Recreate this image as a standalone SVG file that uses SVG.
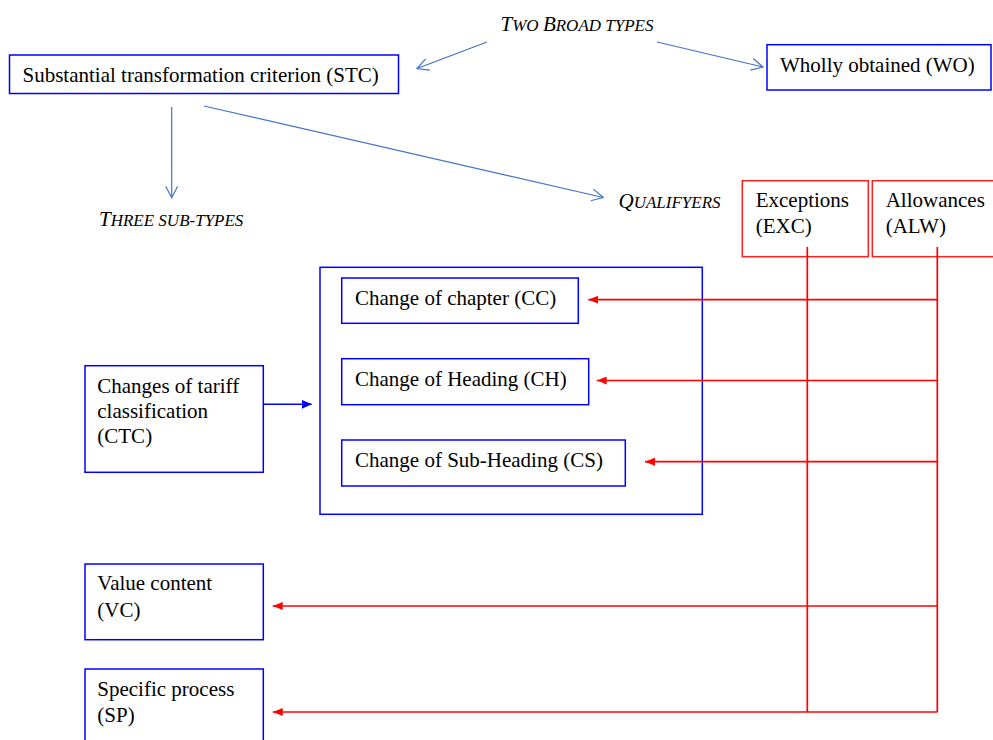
<svg xmlns="http://www.w3.org/2000/svg" width="993" height="740" viewBox="0 0 993 740">
<style>
text{font-family:"Liberation Serif",Tinos,"DejaVu Serif",serif;font-size:21px;fill:#000}
.lbl{font-style:italic}
.sc{font-size:17px}
.bbox{fill:#fff;stroke:#0000ff;stroke-width:1.5}
.gbox{fill:none;stroke:#0000ff;stroke-width:1.5}
.rbox{fill:#fff;stroke:#ff2020;stroke-width:1.5}
.thin{fill:none;stroke:#4472c4;stroke-width:1.2}
.red{fill:none;stroke:#ff0000;stroke-width:1.7}
.blue{fill:none;stroke:#0000ff;stroke-width:1.5}
</style>
<defs>
<marker id="open" viewBox="0 0 14 14" refX="12.5" refY="7" markerWidth="14" markerHeight="14" markerUnits="userSpaceOnUse" orient="auto">
<path d="M1,1 L12.5,7 L1,13" fill="none" stroke="#4472c4" stroke-width="1.2"/>
</marker>
<marker id="redhead" viewBox="0 0 10 8" refX="10" refY="4" markerWidth="10" markerHeight="8" markerUnits="userSpaceOnUse" orient="auto">
<path d="M0,0 L10,4 L0,8 Z" fill="#ff0000"/>
</marker>
<marker id="bluehead" viewBox="0 0 10 9" refX="10" refY="4.5" markerWidth="10" markerHeight="9" markerUnits="userSpaceOnUse" orient="auto">
<path d="M0,0 L10,4.5 L0,9 Z" fill="#0000ff"/>
</marker>
</defs>
<rect width="993" height="740" fill="#fff"/>

<g id="labels" font-family="Liberation Serif, serif">
<text class="lbl" x="500.5" y="31"><tspan>T</tspan><tspan class="sc">WO </tspan><tspan>B</tspan><tspan class="sc">ROAD TYPES</tspan></text>
<text class="lbl" x="99" y="226"><tspan>T</tspan><tspan class="sc">HREE SUB-TYPES</tspan></text>
<text class="lbl" x="618.5" y="208"><tspan>Q</tspan><tspan class="sc">UALIFYERS</tspan></text>
</g>

<g id="STC">
<rect class="bbox" x="9.5" y="55" width="389" height="38.5"/>
<text x="22.5" y="82">Substantial transformation criterion (STC)</text>
</g>
<g id="WO">
<rect class="bbox" x="767" y="44.7" width="224" height="45.3"/>
<text x="780" y="72">Wholly obtained (WO)</text>
</g>
<g id="EXC">
<rect class="rbox" x="742.3" y="180.7" width="126" height="76"/>
<text x="755.7" y="207.3">Exceptions</text>
<text x="755.7" y="233.3">(EXC)</text>
</g>
<g id="ALW">
<rect class="rbox" x="872.3" y="180.7" width="130" height="76"/>
<text x="885.7" y="207.3">Allowances</text>
<text x="885.7" y="233.3">(ALW)</text>
</g>
<g id="CTCGroup">
<rect class="gbox" x="320" y="267.3" width="382.3" height="247"/>
</g>
<g id="CC">
<rect class="bbox" x="341.7" y="278" width="236.6" height="45.3"/>
<text x="355" y="305">Change of chapter (CC)</text>
</g>
<g id="CH">
<rect class="bbox" x="341.7" y="358.7" width="247" height="46"/>
<text x="355" y="386">Change of Heading (CH)</text>
</g>
<g id="CS">
<rect class="bbox" x="341.7" y="440" width="283.6" height="46"/>
<text x="355" y="466.7">Change of Sub-Heading (CS)</text>
</g>
<g id="CTC">
<rect class="bbox" x="85" y="365.7" width="178.3" height="106.6"/>
<text x="97.3" y="392.7">Changes of tariff</text>
<text x="97.3" y="417.7">classification</text>
<text x="97.3" y="443">(CTC)</text>
</g>
<g id="VC">
<rect class="bbox" x="85" y="564" width="178.3" height="75.7"/>
<text x="97.3" y="590">Value content</text>
<text x="97.3" y="616.7">(VC)</text>
</g>
<g id="SP">
<rect class="bbox" x="85" y="669" width="178.3" height="80"/>
<text x="97.3" y="695.7">Specific process</text>
<text x="97.3" y="722">(SP)</text>
</g>

<g id="connectors">
<line class="thin" x1="487" y1="42" x2="417" y2="68.5" marker-end="url(#open)"/>
<line class="thin" x1="657" y1="42" x2="763" y2="67" marker-end="url(#open)"/>
<line class="thin" x1="171.7" y1="107" x2="171.7" y2="197.7" marker-end="url(#open)"/>
<line class="thin" x1="204" y1="106" x2="603.3" y2="197.5" marker-end="url(#open)"/>
<line class="blue" x1="263.3" y1="404.3" x2="311.7" y2="404.3" marker-end="url(#bluehead)"/>
<line class="red" x1="807.3" y1="247" x2="807.3" y2="712"/>
<line class="red" x1="937.3" y1="247" x2="937.3" y2="712"/>
<line class="red" x1="937.3" y1="299.7" x2="588.3" y2="299.7" marker-end="url(#redhead)"/>
<line class="red" x1="937.3" y1="380.5" x2="596.7" y2="380.5" marker-end="url(#redhead)"/>
<line class="red" x1="937.3" y1="461.7" x2="645" y2="461.7" marker-end="url(#redhead)"/>
<line class="red" x1="937.3" y1="606" x2="272.7" y2="606" marker-end="url(#redhead)"/>
<line class="red" x1="937.3" y1="712" x2="272.7" y2="712" marker-end="url(#redhead)"/>
</g>
</svg>
